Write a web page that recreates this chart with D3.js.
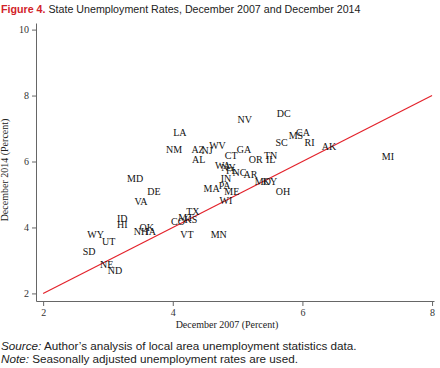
<!DOCTYPE html>
<html>
<head>
<meta charset="utf-8">
<script src="https://cdn.jsdelivr.net/npm/d3@7"></script>
<style>
	body { margin: 0; background: #fff; }
	svg text { fill: #222; }
	.title { font-family: "Liberation Sans", Arial, sans-serif; font-size: 11px; }
	.title .fig { fill: #d2232a; font-weight: bold; }
	.notes { font-family: "Liberation Sans", Arial, sans-serif; font-size: 11px; }
	.axis text { font-family: "Liberation Serif", serif; font-size: 10px; fill: #333; }
	.axis path, .axis line { stroke: #666; }
	.axis-title { font-family: "Liberation Serif", serif; font-size: 10px; }
	.state { font-family: "Liberation Serif", serif; font-size: 10px; fill: #111; }
	.fit-line { stroke: #e3222b; stroke-width: 1.2; fill: none; }
</style>
</head>
<body>
<script>
// state abbreviations and rates
var states = ["DC", "NV", "LA", "NM", "AZ", "NJ", "WV", "AL", "GA", "CT",
	"SC", "MS", "CA", "RI", "AK", "MI", "OR", "TN", "IL", "WA",
	"NY", "FL", "NC", "AR", "MO", "KY", "IN", "PA", "MA", "ME",
	"OH", "WI", "DE", "MD", "VA", "ID", "HI", "OK", "NH", "IA",
	"TX", "CO", "MT", "KS", "VT", "MN", "WY", "UT", "SD", "NE", "ND"];
var rate2007 = [5.71, 5.11, 4.11, 4.02, 4.39, 4.53, 4.69, 4.40, 5.10, 4.90,
	5.68, 5.90, 6.01, 6.11, 6.41, 7.32, 5.28, 5.51, 5.51, 4.77,
	4.86, 4.91, 5.03, 5.20, 5.39, 5.50, 4.82, 4.80, 4.60, 4.91,
	5.70, 4.82, 3.71, 3.42, 3.51, 3.22, 3.22, 3.60, 3.51, 3.66,
	4.31, 4.08, 4.20, 4.28, 4.22, 4.71, 2.81, 3.01, 2.71, 2.98, 3.11];
var rate2014 = [7.46, 7.27, 6.88, 6.37, 6.37, 6.34, 6.49, 6.07, 6.37, 6.19,
	6.58, 6.79, 6.88, 6.58, 6.46, 6.16, 6.07, 6.19, 6.07, 5.88,
	5.82, 5.73, 5.67, 5.61, 5.40, 5.40, 5.49, 5.28, 5.19, 5.10,
	5.10, 4.82, 5.10, 5.49, 4.79, 4.28, 4.10, 4.01, 3.88, 3.88,
	4.49, 4.19, 4.31, 4.25, 3.79, 3.79, 3.79, 3.58, 3.28, 2.89, 2.70];
var xTicks = [2, 4, 6, 8];
var yTicks = [2, 4, 6, 8, 10];
var refLine = [2, 8];

var width = 440, height = 368;
var plot = { left: 36, right: 434, top: 23, bottom: 301 };

var svg = d3.select("body").append("svg")
	.attr("width", width)
	.attr("height", height);

// shrink or grow a text's font so that it spans the given width
function fitWidth (sel, target) {
	var size = parseFloat(getComputedStyle(sel.node()).fontSize);
	var w = sel.node().getComputedTextLength();
	var newSize = size * target / w;
	sel.style("font-size", newSize + "px");
	return newSize;
}

// title
var title = svg.append("text")
	.attr("class", "title")
	.attr("x", 1)
	.attr("y", 13);
title.append("tspan").attr("class", "fig").text("Figure 4.");
title.append("tspan").text(" State Unemployment Rates, December 2007 and December 2014");
fitWidth(title, 360);

var xScale = d3.scaleLinear()
	.domain([1.89, 8.03])
	.range([plot.left, plot.right]);
var yScale = d3.scaleLinear()
	.domain([1.77, 10.2])
	.range([plot.bottom, plot.top]);

// axes
var xAxis = d3.axisBottom(xScale)
	.tickValues(xTicks)
	.tickFormat(d3.format("d"))
	.tickSize(5)
	.tickSizeOuter(0)
	.tickPadding(3);
svg.append("g")
	.attr("class", "axis x")
	.attr("transform", "translate(0," + plot.bottom + ")")
	.call(xAxis);

var yAxis = d3.axisLeft(yScale)
	.tickValues(yTicks)
	.tickFormat(d3.format("d"))
	.tickSize(4)
	.tickSizeOuter(0)
	.tickPadding(3);
svg.append("g")
	.attr("class", "axis y")
	.attr("transform", "translate(" + plot.left + ",0)")
	.call(yAxis);

svg.append("text")
	.attr("class", "axis-title")
	.attr("x", 227)
	.attr("y", 328)
	.attr("text-anchor", "middle")
	.text("December 2007 (Percent)");
svg.append("text")
	.attr("class", "axis-title")
	.attr("transform", "translate(8,170) rotate(-90)")
	.attr("text-anchor", "middle")
	.text("December 2014 (Percent)");

// 45 degree reference line
var line = d3.line()
	.x(function (d) { return xScale(d); })
	.y(function (d) { return yScale(d); });
svg.append("path")
	.datum(refLine)
	.attr("class", "fit-line")
	.attr("d", line);

// state labels
svg.append("g").selectAll("text")
	.data(states).enter()
	.append("text")
	.attr("class", "state")
	.attr("text-anchor", "middle")
	.attr("dy", "0.35em")
	.attr("x", function (d, i) { return xScale(rate2007[i]); })
	.attr("y", function (d, i) { return yScale(rate2014[i]); })
	.text(function (d) { return d; });

// source and note
var src = svg.append("text").attr("class", "notes").attr("x", 1).attr("y", 350);
src.append("tspan").attr("font-style", "italic").text("Source:");
src.append("tspan").text(" Author\u2019s analysis of local area unemployment statistics data.");
var noteSize = fitWidth(src, 356);
var note = svg.append("text").attr("class", "notes").attr("x", 1).attr("y", 363)
	.style("font-size", noteSize + "px");
note.append("tspan").attr("font-style", "italic").text("Note:");
note.append("tspan").text(" Seasonally adjusted unemployment rates are used.");
</script>
</body>
</html>
